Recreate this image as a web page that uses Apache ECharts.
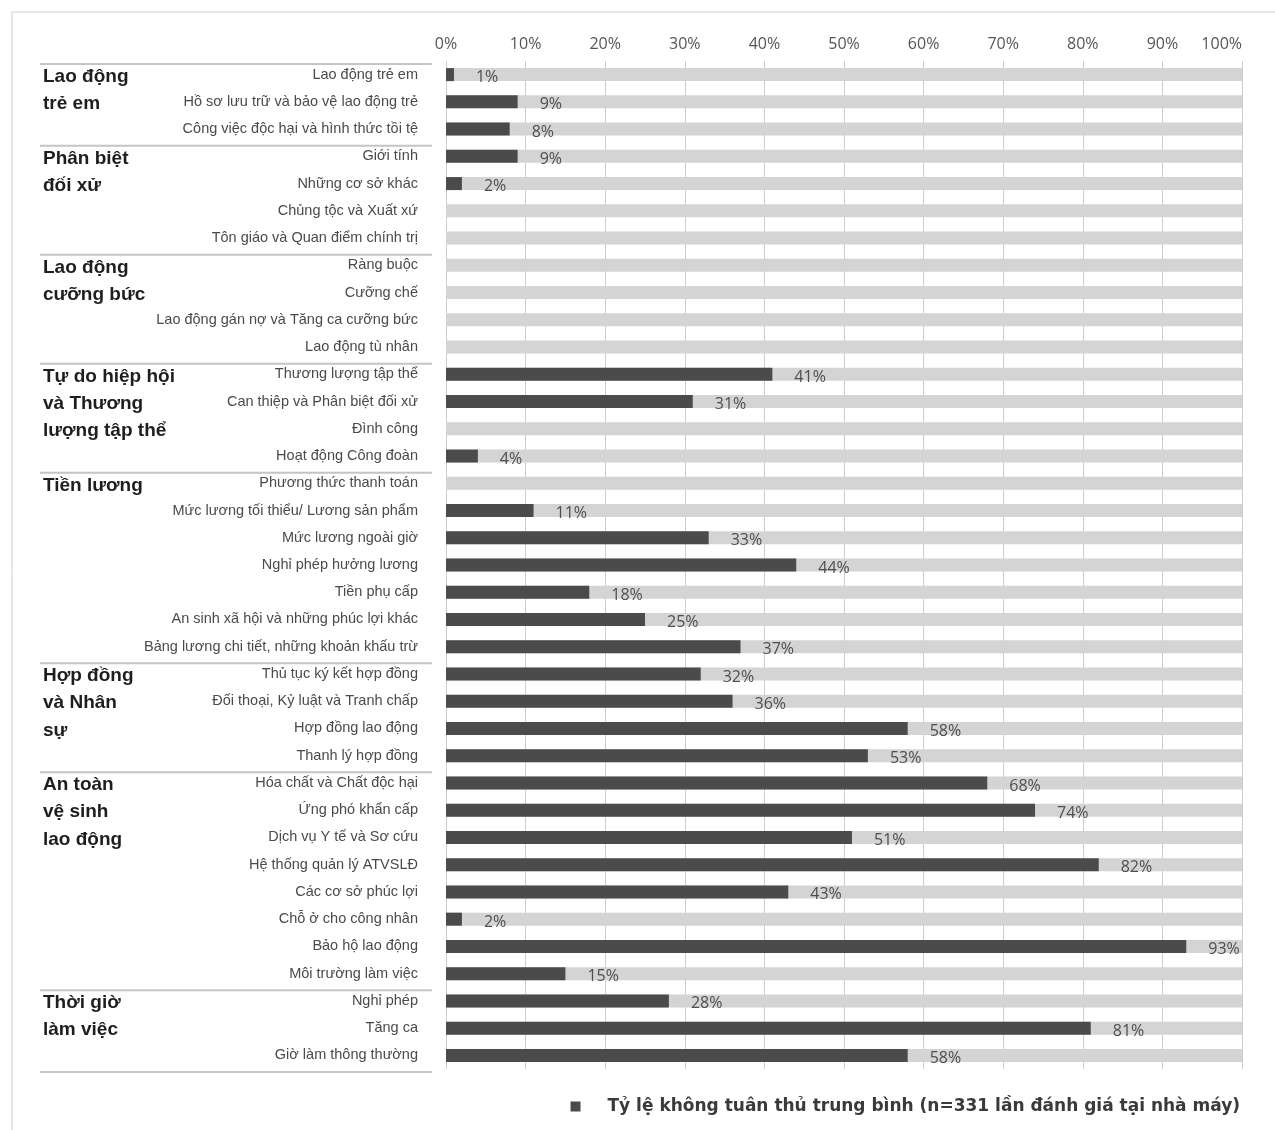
<!DOCTYPE html>
<html>
<head>
<meta charset="utf-8">
<script src="https://cdn.jsdelivr.net/npm/echarts@6/dist/echarts.min.js"></script>
<style>
html,body{margin:0;padding:0;background:#fff;}
#main{width:1275px;height:1130px;}
</style>
</head>
<body>
<div id="main"></div>
<script>
const categories = [
  'Lao động trẻ em',
  'Hồ sơ lưu trữ và bảo vệ lao động trẻ',
  'Công việc độc hại và hình thức tồi tệ',
  'Giới tính',
  'Những cơ sở khác',
  'Chủng tộc và Xuất xứ',
  'Tôn giáo và Quan điểm chính trị',
  'Ràng buộc',
  'Cưỡng chế',
  'Lao động gán nợ và Tăng ca cưỡng bức',
  'Lao động tù nhân',
  'Thương lượng tập thể',
  'Can thiệp và Phân biệt đối xử',
  'Đình công',
  'Hoạt động Công đoàn',
  'Phương thức thanh toán',
  'Mức lương tối thiểu/ Lương sản phẩm',
  'Mức lương ngoài giờ',
  'Nghỉ phép hưởng lương',
  'Tiền phụ cấp',
  'An sinh xã hội và những phúc lợi khác',
  'Bảng lương chi tiết, những khoản khấu trừ',
  'Thủ tục ký kết hợp đồng',
  'Đối thoại, Kỷ luật và Tranh chấp',
  'Hợp đồng lao động',
  'Thanh lý hợp đồng',
  'Hóa chất và Chất độc hại',
  'Ứng phó khẩn cấp',
  'Dịch vụ Y tế và Sơ cứu',
  'Hệ thống quản lý ATVSLĐ',
  'Các cơ sở phúc lợi',
  'Chỗ ở cho công nhân',
  'Bảo hộ lao động',
  'Môi trường làm việc',
  'Nghỉ phép',
  'Tăng ca',
  'Giờ làm thông thường'
];
const values = [
  1, 9, 8,
  9, 2, 0, 0,
  0, 0, 0, 0,
  41, 31, 0, 4,
  0, 11, 33, 44, 18, 25, 37,
  32, 36, 58, 53,
  68, 74, 51, 82, 43, 2, 93, 15,
  28, 81, 58
];
const groupLabels = [
  ['Lao động', 'trẻ em'],
  ['Phân biệt', 'đối xử'],
  ['Lao động', 'cưỡng bức'],
  ['Tự do hiệp hội', 'và Thương', 'lượng tập thể'],
  ['Tiền lương'],
  ['Hợp đồng', 'và Nhân', 'sự'],
  ['An toàn', 'vệ sinh', 'lao động'],
  ['Thời giờ', 'làm việc']
];
const groupSizes = [3, 4, 4, 4, 7, 4, 8, 3];
const seriesName = 'Tỷ lệ không tuân thủ trung bình (n=331 lần đánh giá tại nhà máy)';

const chart = echarts.init(document.getElementById('main'), null, {renderer: 'canvas'});
const option = {
  backgroundColor: '#ffffff',
  animation: false,
  grid: {left: 446, right: 33, top: 61, bottom: 61, containLabel: false},
  legend: {
    data: [seriesName],
    right: 30, top: 1093,
    icon: 'rect', itemWidth: 10, itemHeight: 10,
    textStyle: {fontFamily: 'DejaVu Sans, sans-serif', fontSize: 17, fontWeight: 'bold', color: '#3a3a3a', padding: [0, 0, 0, 22]}
  },
  xAxis: {
    type: 'value', position: 'top', min: 0, max: 100, interval: 10,
    axisLine: {show: false}, axisTick: {show: false},
    splitLine: {show: true, lineStyle: {color: '#cdcdcd', width: 1}},
    axisLabel: {formatter: '{value}%', margin: 9, fontFamily: 'Open Sans, sans-serif', fontSize: 16, color: '#555', alignMaxLabel: 'right'}
  },
  yAxis: {
    type: 'category', data: categories, inverse: true,
    axisLine: {show: false}, axisTick: {show: false}, splitLine: {show: false},
    axisLabel: {margin: 28, fontFamily: 'Liberation Sans, Arial, sans-serif', fontSize: 14.5, color: '#4a4a4a', verticalAlign: 'middle', padding: [0, 0, 3, 0]}
  },
  series: [{
    name: seriesName,
    type: 'bar', data: values, barWidth: 13,
    itemStyle: {color: '#4b4b4b'},
    showBackground: true,
    backgroundStyle: {color: '#d4d4d4'},
    label: {
      show: true, position: 'right', distance: 22, offset: [0, 3],
      fontFamily: 'Open Sans, sans-serif', fontSize: 16, color: '#4e4e4e',
      formatter: p => p.value > 0 ? p.value + '%' : ''
    }
  }]
};
chart.setOption(option);

function decorate() {
  const yOf = i => chart.convertToPixel({yAxisIndex: 0}, i);
  const band = yOf(1) - yOf(0);
  const els = [];
  els.push({type: 'rect', silent: true, shape: {x: 12, y: 12, width: 1300, height: 1200},
    style: {fill: 'none', stroke: '#cfcfcf', lineWidth: 1}});
  let start = 0;
  groupSizes.forEach((n, g) => {
    const ySep = yOf(start) - band / 2 + 3;
    els.push({type: 'line', silent: true, shape: {x1: 40, y1: ySep, x2: 432, y2: ySep},
      style: {stroke: '#c4c4c4', lineWidth: 2}});
    groupLabels[g].forEach((t, k) => {
      els.push({type: 'text', silent: true, x: 43, y: yOf(start + k) + 2,
        style: {text: t, fontFamily: 'Liberation Sans, Arial, sans-serif', fontSize: 19, fontWeight: 'bold',
          fill: '#1e1e1e', textVerticalAlign: 'middle', textAlign: 'left'}});
    });
    start += n;
  });
  const yEnd = yOf(start - 1) + band / 2 + 3;
  els.push({type: 'line', silent: true, shape: {x1: 40, y1: yEnd, x2: 432, y2: yEnd},
    style: {stroke: '#c4c4c4', lineWidth: 2}});
  chart.setOption({graphic: {elements: els}});
}
decorate();
</script>
</body>
</html>
